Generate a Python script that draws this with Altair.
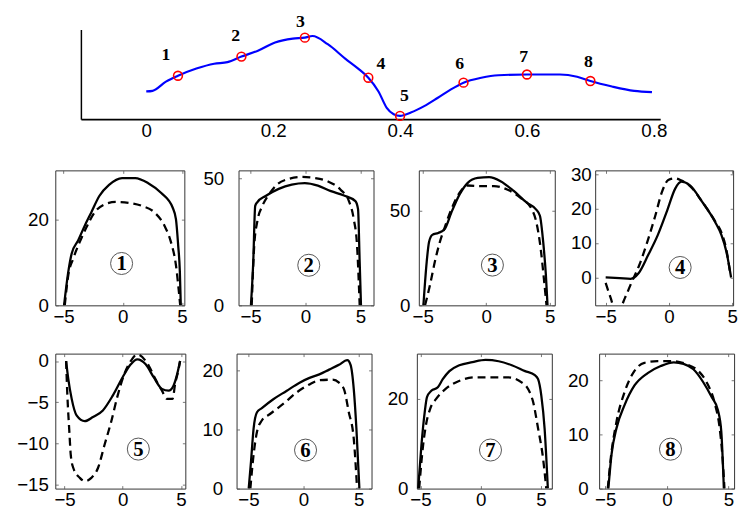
import altair as alt
import pandas as pd

# ---------------- top overview curve ----------------
curve_x = [0.0, 0.01, 0.031, 0.05, 0.079, 0.107, 0.128, 0.15, 0.176, 0.203, 0.231, 0.25, 0.262,
           0.286, 0.314, 0.334, 0.35, 0.366, 0.379, 0.39, 0.40, 0.417, 0.438, 0.459, 0.479, 0.50,
           0.528, 0.555, 0.60, 0.652, 0.679, 0.70, 0.734, 0.769, 0.797]
curve_y = [30.9, 31.6, 41.8, 48.4, 56.4, 61.8, 63.6, 69.8, 76.4, 85.5, 89.8, 90.9, 92.7,
           83.6, 67.3, 56.4, 46.2, 30.9, 12.7, 5.5, 3.6, 7.3, 14.5, 23.6, 32.7, 40.7,
           46.2, 49.0, 49.8, 49.8, 47.3, 42.5, 36.4, 31.6, 30.2]
marker_x = [0.05, 0.15, 0.25, 0.35, 0.40, 0.50, 0.60, 0.70]
marker_y = [48.4, 69.8, 90.9, 46.2, 3.6, 40.7, 49.8, 42.5]
label_text = ["1", "2", "3", "4", "5", "6", "7", "8"]
label_x = [0.031, 0.141, 0.243, 0.37, 0.407, 0.494, 0.595, 0.697]
label_y = [71.6, 92.7, 108.4, 61.8, 25.5, 61.8, 69.1, 63.6]
top_ticks = [0, 0.2, 0.4, 0.6, 0.8]

# ---------------- panel data (solid / dashed) ----------------
p1_sx = [-4.96, -4.6, -4.32, -3.77, -3.22, -2.67, -1.98, -1.16, -0.06, 1.05, 2.15, 3.25, 4.21, 4.49, 4.68, 4.82, 4.9]
p1_sy = [0, 7.9, 12.1, 15.2, 18.6, 21.7, 25.6, 28.2, 29.8, 29.8, 28.6, 26.3, 22.9, 20.2, 14.0, 7.9, 0]
p1_dx = [-4.9, -4.6, -4.19, -3.64, -3.08, -2.4, -1.57, -0.6, 0.5, 1.6, 2.7, 3.53, 4.07, 4.49, 4.71, 4.85]
p1_dy = [0, 7.1, 10.9, 14.8, 18.2, 21.7, 23.6, 24.2, 24.0, 23.3, 21.7, 18.6, 14.8, 9.4, 4.0, 0]

p2_sx = [-4.97, -4.76, -4.58, -4.38, -3.63, -2.44, -1.25, -0.06, 1.13, 2.32, 3.51, 4.55, 4.79, 4.94, 5.06]
p2_sy = [0, 17.1, 39.2, 40.7, 43.1, 45.9, 47.6, 48.2, 47.2, 45.0, 43.3, 41.1, 37.9, 17.1, 0]
p2_dx = [-4.9, -4.67, -4.38, -3.93, -3.33, -2.6, -1.55, -0.36, 0.83, 2.02, 3.2, 3.96, 4.4, 4.7, 4.94]
p2_dy = [0, 23.6, 33.3, 39.2, 43.7, 47.6, 49.8, 50.6, 50.2, 48.9, 45.6, 41.1, 34.0, 23.6, 0]

p3_sx = [-4.95, -4.69, -4.51, -4.25, -3.78, -3.27, -2.75, -2.1, -1.46, -0.68, 0.22, 1.12, 2.16, 3.19, 3.91, 4.22, 4.48, 4.69, 4.82]
p3_sy = [0, 23, 33.4, 37.3, 38.3, 40.4, 49.1, 58.7, 64.8, 67.4, 67.8, 65.7, 60.5, 54.3, 50.8, 47.4, 33.4, 16, 0]
p3_dx = [-4.82, -4.43, -4.05, -3.66, -3.27, -2.75, -2.1, -1.46, -0.43, 0.6, 1.64, 2.67, 3.58, 3.91, 4.28, 4.53, 4.74]
p3_dy = [0, 10.8, 23, 33.4, 41.3, 50.8, 59.6, 63.4, 63.1, 63.1, 61.3, 57, 50.8, 44.8, 30, 14.3, 0]

p4_sx = [-5.0, -3.9, -3.03, -2.4, -1.64, -0.88, -0.13, 0.5, 1.0, 1.64, 2.65, 3.66, 4.16, 4.55, 4.92]
p4_sy = [0, -0.2, -0.4, 1.2, 6.5, 12.3, 19.5, 25.8, 27.8, 26.8, 21.9, 16.1, 12.3, 7.5, 0]
p4_dx = [-5.0, -4.6, -4.3, -3.9, -3.48, -2.97, -2.33, -1.7, -1.07, -0.56, -0.05, 0.45, 0.96, 1.72, 2.65, 3.66, 4.16, 4.55, 4.87]
p4_dy = [-1.6, -6.0, -9.0, -9.0, -6.0, -1.6, 3.7, 10.4, 18.0, 24.7, 28.3, 28.8, 28.2, 26.4, 21.9, 16.3, 13.0, 8.0, 0.7]

p5_sx = [-4.87, -4.68, -4.39, -3.97, -3.26, -2.56, -1.71, -0.86, -0.02, 0.69, 1.25, 1.97, 2.67, 3.37, 3.94, 4.36, 4.64, 4.93]
p5_sy = [0, -2.2, -4.6, -6.6, -7.3, -6.8, -6.0, -4.2, -2.0, -0.4, 0.2, -0.4, -2.0, -3.4, -3.6, -3.0, -1.8, 0]
p5_dx = [-4.87, -4.76, -4.59, -4.47, -4.25, -3.69, -3.26, -2.7, -2.13, -1.57, -1.0, -0.44, 0.13, 0.69, 1.25, 2.25, 2.81, 3.37, 3.8, 4.28, 4.5, 4.8, 4.93]
p5_dy = [0, -4.2, -8.6, -11.4, -13.0, -14.2, -14.6, -14.2, -13.0, -10.2, -7.4, -4.2, -1.6, 0, 0.8, -0.6, -2.2, -3.6, -4.6, -4.6, -2.8, -1.0, 0]

p6_sx = [-4.97, -4.76, -4.53, -4.22, -3.78, -2.74, -1.55, -0.36, 0.54, 1.43, 2.32, 3.21, 3.96, 4.26, 4.55, 4.79, 5.06]
p6_sy = [0, 4.6, 10.1, 12.9, 13.6, 15.1, 16.5, 17.9, 18.7, 19.3, 20.1, 20.9, 21.7, 20.9, 16.8, 10.1, 0]
p6_dx = [-4.82, -4.53, -4.22, -3.78, -3.04, -1.85, -0.65, 0.54, 1.43, 2.62, 3.21, 3.66, 4.1, 4.55, 4.85]
p6_dy = [0, 5.7, 9.6, 11.5, 12.6, 14.3, 16.2, 17.6, 18.3, 18.4, 17.9, 16.8, 12.9, 8.4, 0]

p7_sx = [-5.19, -4.92, -4.65, -4.46, -4.1, -3.56, -3.15, -2.6, -1.78, -0.69, 0.4, 1.49, 2.58, 3.68, 4.49, 4.76, 5.03, 5.3, 5.57]
p7_sy = [0, 9.7, 17.0, 20.4, 21.8, 22.6, 24.4, 26.2, 27.5, 28.2, 28.7, 28.4, 27.5, 26.2, 25.3, 24.4, 20.7, 13.4, 0]
p7_dx = [-5.11, -4.78, -4.51, -4.18, -3.7, -2.89, -1.8, -0.44, 0.93, 2.29, 3.39, 3.93, 4.35, 4.76, 5.17, 5.44]
p7_dy = [0, 9.7, 14.7, 17.9, 20.0, 22.3, 24.0, 24.8, 24.8, 24.8, 23.7, 22.2, 19.3, 13.4, 6.8, 0]

p8_sx = [-4.75, -4.49, -4.09, -3.43, -2.63, -1.56, -0.5, 0.56, 1.35, 2.15, 2.95, 3.62, 4.14, 4.41, 4.62]
p8_sy = [0, 6.4, 11.2, 15.5, 19.1, 21.4, 22.7, 23.4, 23.1, 22.1, 19.7, 17.0, 14.5, 10.6, 0]
p8_dx = [-4.8, -4.54, -4.09, -3.43, -2.63, -1.83, -0.77, 0.56, 1.62, 2.55, 3.22, 3.88, 4.28, 4.49, 4.67]
p8_dy = [0, 5.9, 12.4, 17.9, 21.8, 23.3, 23.6, 23.6, 23.0, 21.8, 19.7, 15.8, 11.2, 6.4, 0]

x_ticks = [-5, 0, 5]
panel_xdom = [[-5.7, 5.2], [-6.1, 6.2], [-5.31, 5.39], [-5.83, 5.08],
              [-5.8, 5.38], [-6.07, 6.16], [-5.3, 5.9], [-5.5, 5.45]]
panel_ydom = [[0, 31.6], [0, 53.2], [0, 71.4], [-8.1, 31.1],
              [-15.5, 0.9], [0, 22.8], [0, 30.1], [0, 25]]
panel_yticks = [[0, 20], [0, 50], [0, 50], [0, 10, 20, 30],
                [-15, -10, -5, 0], [0, 10, 20], [0, 20], [0, 10, 20]]
panel_num = ["1", "2", "3", "4", "5", "6", "7", "8"]
panel_num_x = [-0.1, 0.3, 0.48, 0.89, 1.34, 0.18, 0.81, 0.29]
panel_num_y = [9.8, 15.8, 21.3, 2.9, -10.7, 6.5, 8.6, 7.3]

LABEL_FONT = "Liberation Sans"
NUM_FONT = "Liberation Serif"


def make_panel(i, sx, sy, dx, dy, w, h, ylabpad):
    n1, n2 = len(sx), len(dx)
    df = pd.DataFrame({
        "x": list(sx) + list(dx),
        "y": list(sy) + list(dy),
        "kind": ["solid"] * n1 + ["dash"] * n2,
        "order": list(range(n1)) + list(range(n2)),
    })
    xsc = alt.Scale(domain=panel_xdom[i], nice=False, zero=False)
    ysc = alt.Scale(domain=panel_ydom[i], nice=False, zero=False)
    common = dict(title=None, grid=False, domain=False, tickSize=3, tickColor="#555",
                  tickWidth=0.8, offset=-3, labelFont=LABEL_FONT, labelFontSize=19,
                  labelColor="black")
    base = alt.Chart(df)
    solid = base.transform_filter(alt.datum.kind == "solid").mark_line(
        color="black", strokeWidth=2.3, clip=True, interpolate="monotone").encode(
        x=alt.X("x:Q", scale=xsc, axis=alt.Axis(orient="bottom", values=x_ticks, labelPadding=2, **common)),
        y=alt.Y("y:Q", scale=ysc, axis=alt.Axis(orient="left", values=panel_yticks[i], labelPadding=ylabpad, **common)),
        order="order:Q")
    dashed = base.transform_filter(alt.datum.kind == "dash").mark_line(
        color="black", strokeWidth=2.3, strokeDash=[8, 5], clip=True, interpolate="monotone").encode(
        x=alt.X("x:Q", scale=xsc, axis=alt.Axis(orient="top", values=x_ticks, labels=False, **common)),
        y=alt.Y("y:Q", scale=ysc, axis=alt.Axis(orient="right", values=panel_yticks[i], labels=False, **common)),
        order="order:Q")
    ann = pd.DataFrame({"x": [panel_num_x[i]], "y": [panel_num_y[i]], "t": [panel_num[i]]})
    circ = alt.Chart(ann).mark_point(shape="circle", size=500, filled=False, color="#555",
                                     strokeWidth=1, opacity=1).encode(
        x=alt.X("x:Q", scale=xsc, axis=None), y=alt.Y("y:Q", scale=ysc, axis=None))
    txt = alt.Chart(ann).mark_text(font=NUM_FONT, fontWeight="bold", fontSize=21, color="black",
                                   baseline="middle", dy=1).encode(
        x=alt.X("x:Q", scale=xsc, axis=None), y=alt.Y("y:Q", scale=ysc, axis=None), text="t:N")
    return alt.layer(solid, dashed, circ, txt).resolve_axis(
        x="independent", y="independent").properties(width=w, height=h)


# ---------------- top chart ----------------
top_df = pd.DataFrame({"x": curve_x, "y": curve_y})
mk_df = pd.DataFrame({"x": marker_x, "y": marker_y})
lb_df = pd.DataFrame({"x": label_x, "y": label_y, "t": label_text})
xsc_t = alt.Scale(domain=[-0.103, 0.81], nice=False, zero=False)
ysc_t = alt.Scale(domain=[0, 100], nice=False, zero=False)

tline = alt.Chart(top_df).mark_line(color="#0000ff", strokeWidth=2.2, interpolate="monotone").encode(
    x=alt.X("x:Q", scale=xsc_t, title=None,
            axis=alt.Axis(values=top_ticks, format=".1~f", title=None, grid=False,
                          ticks=False, domain=True, domainColor="black", domainWidth=2,
                          labelFont=LABEL_FONT, labelFontSize=19, labelColor="black",
                          labelPadding=3)),
    y=alt.Y("y:Q", scale=ysc_t, title=None,
            axis=alt.Axis(labels=False, ticks=False, grid=False, title=None,
                          domain=True, domainColor="black", domainWidth=1.5)))
tmark = alt.Chart(mk_df).mark_point(shape="circle", size=80, filled=False, color="red", strokeWidth=1.6,
                                    opacity=1).encode(
    x=alt.X("x:Q", scale=xsc_t, title=None), y=alt.Y("y:Q", scale=ysc_t, title=None))
tlab = alt.Chart(lb_df).mark_text(font=NUM_FONT, fontWeight="bold", fontSize=18, color="black").encode(
    x=alt.X("x:Q", scale=xsc_t, title=None), y=alt.Y("y:Q", scale=ysc_t, title=None), text="t:N")
top = alt.layer(tline, tmark, tlab).properties(width=588, height=91,
                                              view=alt.ViewBackground(stroke="transparent"))
spacer = alt.Chart(pd.DataFrame({"x": [0]})).mark_point(opacity=0, size=1).properties(
    width=1, height=91, view=alt.ViewBackground(stroke="transparent"))
top_row = alt.hconcat(spacer, top, spacing=23)

W = [131, 137, 138, 140, 132, 137, 137, 137]
H = 137
pads = [7, 15, 9, 4, 7, 14, 9, 11]
datas = [(p1_sx, p1_sy, p1_dx, p1_dy), (p2_sx, p2_sy, p2_dx, p2_dy), (p3_sx, p3_sy, p3_dx, p3_dy),
         (p4_sx, p4_sy, p4_dx, p4_dy), (p5_sx, p5_sy, p5_dx, p5_dy), (p6_sx, p6_sy, p6_dx, p6_dy),
         (p7_sx, p7_sy, p7_dx, p7_dy), (p8_sx, p8_sy, p8_dx, p8_dy)]
panels = [make_panel(i, *datas[i], W[i], H, pads[i]) for i in range(8)]

row1 = alt.hconcat(*panels[:4], spacing=14)
row2 = alt.hconcat(*panels[4:], spacing=14)
inner = alt.vconcat(top_row, row1, spacing=23)
chart = alt.vconcat(inner, row2, spacing=25).properties(
    padding={"left": 8, "top": 0, "right": 2, "bottom": 2}
).configure_view(stroke="#333", strokeWidth=1)

chart.save("out.html", embed_options={"renderer": "svg", "actions": False})
